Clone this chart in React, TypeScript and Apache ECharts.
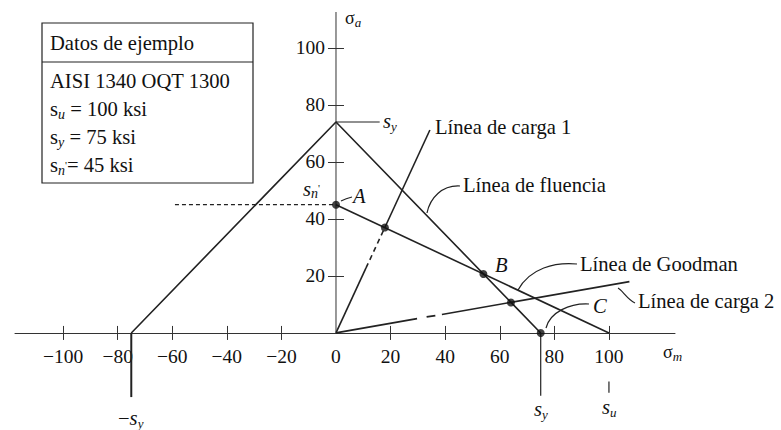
import React, { useEffect, useRef } from "react";
import * as echarts from "echarts";

// ---- data (ksi) ----
const xTickValues = [-100, -80, -60, -40, -20, 20, 40, 60, 80, 100];
const xLabelValues = [-100, -80, -60, -40, -20, 0, 20, 40, 60, 80, 100];
const yTickValues = [20, 40, 60, 80, 100];

const yAxisLine = [[0, 0], [0, 112.6]];
const yieldLine = [[-75, 0], [0, 74], [75, 0]];
const syMark = [[0, 74], [16, 74]];
const goodmanLine = [[0, 45], [100, 0]];
const snDashed = [[-59, 45], [0, 45]];
const load1SolidA = [[0, 0], [11, 22.8]];
const load1Dashed = [[11, 22.8], [17.9, 37]];
const load1SolidB = [[17.9, 37], [34.4, 71.2]];
const load2SolidA = [[0, 0], [29.7, 5]];
const load2Dash = [[33.2, 5.6], [36.4, 6.1]];
const load2SolidB = [[38.8, 6.5], [107.5, 18]];
const minusSyDrop = [[-75, 0], [-75, -22.5]];
const sySyDrop = [[75, 0], [75, -22]];
const suMark = [[100, -17], [100, -21]];
const keyPoints = [[0, 45], [17.9, 37], [54, 20.7], [64.1, 10.7], [75, 0]];

// axis ranges
const X_MIN = -117.6;
const X_MAX = 124.2;
const Y_MIN = -33;
const Y_MAX = 112.6;

const FONT = "Liberation Serif, Times New Roman, serif";
const INK = "#111";
const LINE = "#222";

const GRID = { left: 15, top: 12, width: 660, height: 415 };

let _ctx: CanvasRenderingContext2D | null = null;
function tw(t: string, size: number, italic: boolean) {
  if (!_ctx) _ctx = document.createElement("canvas").getContext("2d");
  if (!_ctx) return t.length * size * 0.5;
  _ctx.font = `${italic ? "italic " : ""}${size}px "Liberation Serif"`;
  return _ctx.measureText(t).width;
}

type Seg = { t: string; size: number; italic?: boolean; dy?: number };
function runs(x: number, y: number, segs: Seg[]) {
  let cx = x;
  return segs.map((s) => {
    const el = {
      type: "text",
      x: cx,
      y: y + (s.dy || 0),
      z: 10,
      style: {
        text: s.t,
        fontSize: s.size,
        fontStyle: s.italic ? "italic" : "normal",
        fontFamily: FONT,
        fill: INK,
        verticalAlign: "middle",
      },
    };
    cx += tw(s.t, s.size, !!s.italic);
    return el;
  });
}

function leader(x1: number, y1: number, c1x: number, c1y: number, c2x: number, c2y: number, x2: number, y2: number) {
  return {
    type: "bezierCurve",
    z: 10,
    shape: { x1, y1, cpx1: c1x, cpy1: c1y, cpx2: c2x, cpy2: c2y, x2, y2 },
    style: { stroke: LINE, lineWidth: 1.2, fill: "none" },
  };
}

function lineSeries(data: number[][], width = 1.5, type: any = "solid", color = LINE) {
  return {
    type: "line",
    data,
    showSymbol: false,
    silent: true,
    lineStyle: { color, width, type },
    z: 3,
  };
}

export default function App() {
  const ref = useRef<HTMLDivElement>(null);
  useEffect(() => {
    if (!ref.current) return;
    const chart = echarts.init(ref.current, null, { renderer: "svg" });
    const S = 20.6;
    // pixel offsets that move the axes from the grid edges onto the zero lines
    const zeroX = GRID.left + ((0 - X_MIN) / (X_MAX - X_MIN)) * GRID.width;
    const zeroY = GRID.top + ((Y_MAX - 0) / (Y_MAX - Y_MIN)) * GRID.height;
    const yOffset = -(zeroX - GRID.left);
    const xOffset = -(GRID.top + GRID.height - zeroY);

    const graphic: any[] = [
      {
        type: "rect",
        z: 9,
        shape: { x: 42, y: 23, width: 211, height: 160 },
        style: { fill: "#fff", stroke: LINE, lineWidth: 1.2 },
      },
      {
        type: "line",
        z: 9,
        shape: { x1: 42, y1: 62, x2: 253, y2: 62 },
        style: { stroke: LINE, lineWidth: 1.2 },
      },
      ...runs(50, 43, [{ t: "Datos de ejemplo", size: S }]),
      ...runs(50, 81, [{ t: "AISI 1340 OQT 1300", size: S }]),
      ...runs(50, 109, [
        { t: "s", size: S },
        { t: "u", size: 14, italic: true, dy: 5 },
        { t: " = 100 ksi", size: S },
      ]),
      ...runs(50, 137, [
        { t: "s", size: S },
        { t: "y", size: 14, italic: true, dy: 5 },
        { t: " = 75 ksi", size: S },
      ]),
      ...runs(50, 165, [
        { t: "s", size: S },
        { t: "n", size: 14, italic: true, dy: 5 },
        { t: "'", size: 11, dy: 0 },
        { t: "= 45 ksi", size: S },
      ]),
      // axis titles
      ...runs(345, 18, [
        { t: "σ", size: 18 },
        { t: "a", size: 13, italic: true, dy: 4 },
      ]),
      ...runs(663, 352, [
        { t: "σ", size: 18 },
        { t: "m", size: 13, italic: true, dy: 4 },
      ]),
      // symbols
      ...runs(383, 121, [
        { t: "s", size: S, italic: true },
        { t: "y", size: 13, italic: true, dy: 5 },
      ]),
      ...runs(303, 189, [
        { t: "s", size: S, italic: true },
        { t: "n", size: 14, italic: true, dy: 4 },
        { t: "'", size: 11, dy: -1 },
      ]),
      ...runs(118, 418, [
        { t: "−", size: S },
        { t: "s", size: S, italic: true },
        { t: "y", size: 13, italic: true, dy: 5 },
      ]),
      ...runs(534, 409, [
        { t: "s", size: S, italic: true },
        { t: "y", size: 13, italic: true, dy: 5 },
      ]),
      ...runs(602, 407, [
        { t: "s", size: S, italic: true },
        { t: "u", size: 13, italic: true, dy: 5 },
      ]),
      // point labels
      ...runs(353, 196, [{ t: "A", size: S, italic: true }]),
      ...runs(495, 265, [{ t: "B", size: S, italic: true }]),
      ...runs(593, 306, [{ t: "C", size: S, italic: true }]),
      // line labels
      ...runs(435, 127, [{ t: "Línea de carga 1", size: S }]),
      ...runs(463, 185, [{ t: "Línea de fluencia", size: S }]),
      ...runs(580, 264, [{ t: "Línea de Goodman", size: S }]),
      ...runs(638, 301, [{ t: "Línea de carga 2", size: S }]),
      // leaders
      leader(341, 201, 345, 199, 348, 198, 352, 197),
      leader(460, 186, 442, 185, 430, 198, 427, 213),
      leader(577, 264, 555, 262, 530, 268, 518, 290),
      leader(589, 304, 570, 303, 550, 312, 546, 328),
      leader(635, 303, 628, 300, 622, 290, 618, 288),
    ];

    const tickStyle = { color: "#333", width: 1 };
    chart.setOption({
      animation: false,
      backgroundColor: "#fff",
      grid: {
        left: GRID.left,
        top: GRID.top,
        width: GRID.width,
        height: GRID.height,
        containLabel: false,
        outerBoundsMode: "none",
      } as any,
      xAxis: [
        {
          type: "value",
          min: X_MIN,
          max: X_MAX,
          position: "bottom",
          offset: xOffset,
          axisLine: { show: true, onZero: false, lineStyle: { color: "#333", width: 1 } },
          axisTick: { show: true, customValues: xTickValues, length: 7, inside: false, lineStyle: tickStyle },
          axisLabel: {
            show: true,
            customValues: xLabelValues,
            formatter: (v: number) => (v < 0 ? "−" + Math.abs(v) : String(v)),
            fontFamily: FONT,
            fontSize: 19.5,
            color: INK,
            margin: 14,
          },
          splitLine: { show: false },
        },
        {
          type: "value",
          min: X_MIN,
          max: X_MAX,
          position: "bottom",
          offset: xOffset,
          axisLine: { show: false, onZero: false },
          axisTick: { show: true, customValues: xTickValues, length: 7, inside: true, lineStyle: tickStyle },
          axisLabel: { show: false },
          splitLine: { show: false },
        },
      ],
      yAxis: [
        {
          type: "value",
          min: Y_MIN,
          max: Y_MAX,
          position: "left",
          offset: yOffset,
          axisLine: { show: false, onZero: false },
          axisTick: { show: true, customValues: yTickValues, length: 8, inside: false, lineStyle: tickStyle },
          axisLabel: {
            show: true,
            customValues: yTickValues,
            fontFamily: FONT,
            fontSize: 19.5,
            color: INK,
            margin: 11,
          },
          splitLine: { show: false },
        },
        {
          type: "value",
          min: Y_MIN,
          max: Y_MAX,
          position: "left",
          offset: yOffset,
          axisLine: { show: false, onZero: false },
          axisTick: { show: true, customValues: yTickValues, length: 8, inside: true, lineStyle: tickStyle },
          axisLabel: { show: false },
          splitLine: { show: false },
        },
      ],
      series: [
        lineSeries(yAxisLine, 1, "solid", "#333"),
        lineSeries(yieldLine, 1.6),
        lineSeries(syMark, 1.2),
        lineSeries(goodmanLine, 1.6),
        lineSeries(snDashed, 1.2, [4, 3]),
        lineSeries(load1SolidA, 1.6),
        lineSeries(load1Dashed, 1.6, [5, 4]),
        lineSeries(load1SolidB, 1.6),
        lineSeries(load2SolidA, 1.8),
        lineSeries(load2Dash, 1.8),
        lineSeries(load2SolidB, 1.6),
        lineSeries(minusSyDrop, 2),
        lineSeries(sySyDrop, 1.2),
        lineSeries(suMark, 1.2),
        {
          type: "scatter",
          data: keyPoints,
          symbol: "circle",
          symbolSize: 8,
          itemStyle: { color: "#111" },
          silent: true,
          z: 5,
        },
      ],
      graphic,
    });
    return () => chart.dispose();
  }, []);
  return (
    <div
      ref={ref}
      style={{ position: "fixed", left: 0, top: 0, width: 781, height: 430, background: "#fff" }}
    />
  );
}
